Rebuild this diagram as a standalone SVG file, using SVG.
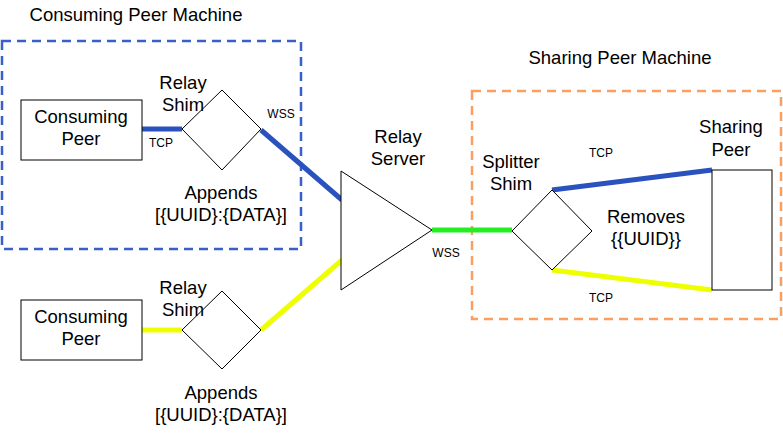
<svg xmlns="http://www.w3.org/2000/svg" width="783" height="441" viewBox="0 0 783 441">
<style>
text{font-family:"Liberation Sans",Arial,sans-serif;fill:#000;text-anchor:middle}
.big{font-size:18.5px}
.sm{font-size:12px}
.node{fill:#fff;stroke:#000;stroke-width:1}
.blue{stroke:#2a52be;stroke-width:5;fill:none}
.yel{stroke:#eeff00;stroke-width:5;fill:none}
.grn{stroke:#22ee22;stroke-width:5;fill:none}
</style>
<rect width="783" height="441" fill="#fff"/>
<g id="consuming-machine">
<rect x="2" y="41" width="299" height="208" fill="none" stroke="#3b5fc8" stroke-width="2.5" stroke-dasharray="9,6"/>
<text class="big" x="136" y="21">Consuming Peer Machine</text>
</g>
<g id="sharing-machine">
<rect x="472" y="91" width="309" height="228" fill="none" stroke="#f9a060" stroke-width="2.5" stroke-dasharray="9,6"/>
<text class="big" x="620" y="64">Sharing Peer Machine</text>
</g>
<g id="connectors">
<line class="blue" x1="142" y1="129" x2="182" y2="129" stroke-width="3" stroke="#3b5fc8"/>
<line class="blue" x1="261" y1="130" x2="342" y2="200"/>
<line class="yel" x1="142" y1="330" x2="182" y2="330"/>
<line class="yel" x1="261" y1="330" x2="342" y2="260"/>
<line class="grn" x1="432" y1="230" x2="512" y2="230"/>
<line class="blue" x1="552" y1="190" x2="712" y2="170"/>
<line class="yel" x1="552" y1="270" x2="712" y2="290"/>
<text class="sm" x="161" y="147">TCP</text>
<text class="sm" x="281" y="118">WSS</text>
<text class="sm" x="446" y="257">WSS</text>
<text class="sm" x="601" y="157">TCP</text>
<text class="sm" x="601" y="302">TCP</text>
</g>
<g id="consuming-peer-1">
<rect class="node" x="21" y="100" width="121" height="60"/>
<text class="big" x="81" y="123">Consuming</text>
<text class="big" x="81" y="145">Peer</text>
</g>
<g id="relay-shim-1">
<polygon class="node" points="182,129 222,90 261,129 222,170"/>
<text class="big" x="183" y="89">Relay</text>
<text class="big" x="183" y="111">Shim</text>
<text class="big" x="221" y="199">Appends</text>
<text class="big" x="221" y="221">[{UUID}:{DATA}]</text>
</g>
<g id="consuming-peer-2">
<rect class="node" x="21" y="300" width="121" height="60"/>
<text class="big" x="81" y="323">Consuming</text>
<text class="big" x="81" y="345">Peer</text>
</g>
<g id="relay-shim-2">
<polygon class="node" points="182,330 222,291 261,330 222,369"/>
<text class="big" x="183" y="294">Relay</text>
<text class="big" x="183" y="316">Shim</text>
<text class="big" x="221" y="399">Appends</text>
<text class="big" x="221" y="421">[{UUID}:{DATA}]</text>
</g>
<g id="relay-server">
<polygon class="node" points="341,171 432,230 341,290"/>
<text class="big" x="398" y="143">Relay</text>
<text class="big" x="398" y="165">Server</text>
</g>
<g id="splitter-shim">
<polygon class="node" points="512,231 552,190 592,231 552,270"/>
<text class="big" x="511" y="168">Splitter</text>
<text class="big" x="511" y="190">Shim</text>
<text class="big" x="646" y="223">Removes</text>
<text class="big" x="646" y="245">{{UUID}}</text>
</g>
<g id="sharing-peer">
<rect class="node" x="712" y="170" width="60" height="120"/>
<text class="big" x="731" y="133">Sharing</text>
<text class="big" x="731" y="156">Peer</text>
</g>
</svg>
